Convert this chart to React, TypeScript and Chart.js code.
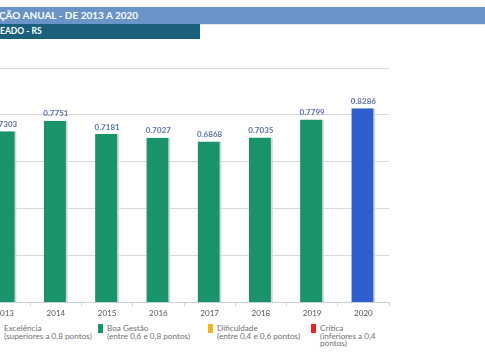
import React, { useEffect, useRef } from "react";
import { Chart, registerables } from "chart.js";

Chart.register(...registerables);

const years = ["2013", "2014", "2015", "2016", "2017", "2018", "2019", "2020"];
const values = [0.7303, 0.7751, 0.7181, 0.7027, 0.6868, 0.7035, 0.7799, 0.8286];
const yTicks = [0, 0.2, 0.4, 0.6, 0.8, 1.0];

const legendItems = [
  { title: "Excelência", lines: ["(superiores a 0,8 pontos)"], color: "#2E5FCC" },
  { title: "Boa Gestão", lines: ["(entre 0,6 e 0,8 pontos)"], color: "#18936A" },
  { title: "Dificuldade", lines: ["(entre 0,4 e 0,6 pontos)"], color: "#F2B51E" },
  { title: "Crítica", lines: ["(inferiores a 0,4", "pontos)"], color: "#E4262A" },
];

const colorFor = (v: number) =>
  v > 0.8 ? "#2E5FCC" : v >= 0.6 ? "#18936A" : v >= 0.4 ? "#F2B51E" : "#E4262A";

const FONT = "Lato, 'Open Sans', sans-serif";

const valueLabels = {
  id: "valueLabels",
  afterDatasetsDraw(chart: any) {
    const ctx = chart.ctx;
    const meta = chart.getDatasetMeta(0);
    ctx.save();
    ctx.font = `bold 8px ${FONT}`;
    ctx.fillStyle = "#5B73A6";
    ctx.textAlign = "center";
    ctx.textBaseline = "bottom";
    meta.data.forEach((el: any, i: number) => {
      ctx.fillText(values[i].toFixed(4), el.x, el.y - 3);
    });
    ctx.restore();
  },
};

export default function App() {
  const ref = useRef<HTMLCanvasElement>(null);
  useEffect(() => {
    if (!ref.current) return;
    const chart = new Chart(ref.current, {
      type: "bar",
      data: {
        labels: years,
        datasets: [
          {
            data: values,
            backgroundColor: values.map(colorFor),
            borderColor: "#d3d8de",
            borderWidth: { top: 0, right: 2, bottom: 0, left: 0 },
            borderSkipped: false,
            categoryPercentage: 1,
            barPercentage: 0.47,
          },
        ],
      },
      options: {
        responsive: false,
        animation: false,
        maintainAspectRatio: false,
        layout: { padding: { left: 0, right: 10, top: 68, bottom: 0 } },
        plugins: { legend: { display: false }, tooltip: { enabled: false } },
        scales: {
          x: {
            grid: {
              display: true,
              drawOnChartArea: false,
              drawTicks: true,
              tickLength: 4,
              color: "#cfd6e0",
            },
            border: { display: true, color: "#c9d1dc" },
            ticks: {
              color: "#555",
              font: { family: FONT, size: 8 },
              padding: 2,
            },
          },
          y: {
            min: yTicks[0],
            max: yTicks[yTicks.length - 1],
            afterBuildTicks: (scale: any) => {
              scale.ticks = yTicks.map((v) => ({ value: v }));
            },
            ticks: { display: false },
            grid: { color: "#d9d9d9", drawTicks: false, lineWidth: 1 },
            border: { display: false },
          },
        },
      },
      plugins: [valueLabels],
    });
    return () => chart.destroy();
  }, []);

  return (
    <div
      style={{
        position: "fixed",
        left: 0,
        top: 0,
        width: 485,
        height: 360,
        overflow: "hidden",
        background: "#fff",
        fontFamily: FONT,
      }}
    >
      <div
        style={{
          position: "absolute",
          left: 0,
          top: 7,
          width: 485,
          height: 17,
          background: "#6A93C8",
        }}
      />
      <div
        style={{
          position: "absolute",
          left: -1,
          top: 7,
          height: 17,
          lineHeight: "17px",
          color: "#fff",
          fontWeight: 700,
          fontSize: 10,
          whiteSpace: "nowrap",
        }}
      >
        ÇÃO ANUAL - DE 2013 A 2020
      </div>
      <div
        style={{
          position: "absolute",
          left: 200,
          top: 24,
          width: 285,
          height: 1,
          background: "#e2e6eb",
        }}
      />
      <div
        style={{
          position: "absolute",
          left: 0,
          top: 24,
          width: 200,
          height: 15,
          background: "#1B607A",
          color: "#fff",
          fontWeight: 700,
          fontSize: 8.5,
          lineHeight: "15px",
          whiteSpace: "nowrap",
        }}
      >
        EADO - RS
      </div>
      <canvas
        ref={ref}
        width={420}
        height={320}
        style={{ position: "absolute", left: -21, top: 0, width: 420, height: 320 }}
      />
      {legendItems.map((it, i) => {
        const textLeft = [4, 107, 217, 320][i];
        return (
          <React.Fragment key={it.title}>
            <div
              style={{
                position: "absolute",
                left: textLeft - 9,
                top: 324,
                width: 5,
                height: 9,
                background: it.color,
              }}
            />
            <div
              style={{
                position: "absolute",
                left: textLeft,
                top: 325,
                fontSize: 8.2,
                lineHeight: "7.7px",
                color: "#6f6f6f",
                whiteSpace: "nowrap",
              }}
            >
              <div>{it.title}</div>
              {it.lines.map((l) => (
                <div key={l}>{l}</div>
              ))}
            </div>
          </React.Fragment>
        );
      })}
    </div>
  );
}
